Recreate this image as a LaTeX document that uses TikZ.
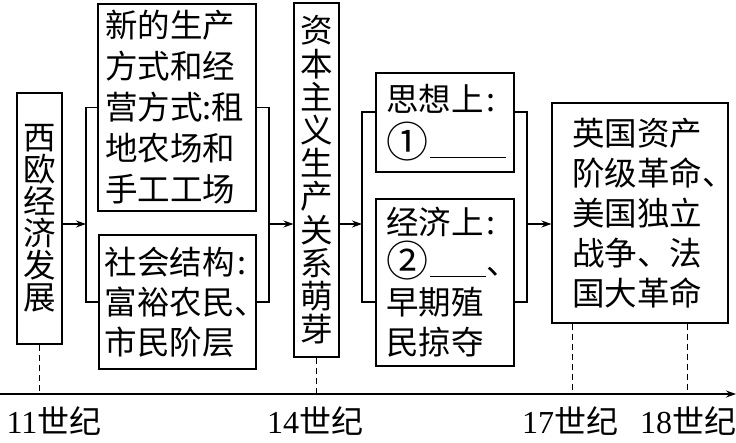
\documentclass[tikz,border=0pt]{standalone}
\usepackage{fontspec}
\setmainfont{Liberation Serif}
\newfontfamily\cjk{Noto Sans CJK SC}
\usetikzlibrary{arrows.meta}
\newcommand\dun{\makebox[6pt][l]{、}}
\newcommand\blank[1]{\kern2pt\rule[-2pt]{#1}{1.1pt}}
\newcommand\colo{\kern3pt:}
\newcommand\circnum[1]{{\fontsize{42}{40}\selectfont\raisebox{-1.5pt}{#1}}}
\begin{document}
\begin{tikzpicture}[x=1pt,y=-1pt,
  line width=1.1pt,
  box/.style={draw, inner sep=0pt, align=left},
  zh/.style={font={\cjk\fontsize{32.5}{#1}\selectfont\lineskiplimit=-20pt}},
  vbox/.style={draw, inner sep=0pt, align=center, text width=34pt},
  arr/.style={-{Stealth[length=10pt,width=7pt]}},
  tick/.style={line width=0.8pt, dash pattern=on 6pt off 4pt},
  lab/.style={font=\fontsize{32}{36}\selectfont, anchor=base, inner sep=0pt}
]
\useasboundingbox (0,0) rectangle (736,442);
\fill[white] (0,0) rectangle (736,442);
% boxes
\node[vbox, zh=32, minimum width=45pt, minimum height=251pt] (b1) at (39.5,218.5) {西\\欧\\经\\济\\发\\展};
\node[box, zh=41, text width=144pt, minimum width=158pt, minimum height=207pt] (b2) at (177,107.5) {新的生产\\方式和经\\营方式:租\\地农场和\\手工工场};
\node[box, zh=40, text width=146pt, minimum width=157pt, minimum height=134pt] (b3) at (177.5,302) {社会结构\colo\\富裕农民\dun\\市民阶层};
\node[vbox, zh=33.2, minimum width=45pt, minimum height=354pt] (b4) at (316.5,180) {资\\本\\主\\义\\生\\产\\关\\系\\萌\\芽};
\node[box, zh=45, text width=118pt, minimum width=138pt, minimum height=99pt] (b5) at (445,122.5) {思想上\colo\\\circnum{①}\blank{76pt}};
\node[box, zh=40, text width=118pt, minimum width=138pt, minimum height=167pt] (b6) at (445,282.5) {经济上\colo\\\circnum{②}\blank{56pt}\dun\\早期殖\\民掠夺};
\node[box, zh=40, text width=136pt, minimum width=176pt, minimum height=220pt] (b7) at (640,213) {英国资产\\阶级革命\dun\\美国独立\\战争、法\\国大革命};
% joints
\coordinate (j1) at (86,224);
\coordinate (j2) at (269,224);
\coordinate (j3) at (362,224);
\coordinate (j4) at (527,224);
\coordinate (t0) at (0,394);
\coordinate (t1) at (736,394);
% connectors
\draw[arr] (b1.east |- j1) -- (j1);
\draw (b2.west) -| (j1) |- (b3.west);
\draw (b2.east) -| (j2) |- (b3.east);
\draw[arr] (j2) -- (b4.west |- j2);
\draw[arr] (b4.east |- j3) -- (j3);
\draw ([yshift=10.5pt]b5.west) -| (j3) |- ([yshift=-19.5pt]b6.west);
\draw ([yshift=10.5pt]b5.east) -| (j4) |- ([yshift=-19.5pt]b6.east);
\draw[arr] (j4) -- (b7.west |- j4);
% timeline
\draw[arr] (t0) -- (t1);
\draw[tick] (b1.south) -- (b1.south |- t0);
\draw[tick] (b4.south) -- (b4.south |- t0);
\coordinate (d1) at ([xshift=21pt]b7.south west);
\coordinate (d2) at ([xshift=-41pt]b7.south east);
\draw[tick] (d1) -- (d1 |- t0);
\draw[tick] (d2) -- (d2 |- t0);
% labels
\node[lab] (l11) at (54,433) {11{\cjk 世纪}};
\node[lab] (l14) at (315,433) {14{\cjk 世纪}};
\node[lab] (l17) at (570,433) {17{\cjk 世纪}};
\node[lab] (l18) at (688,433) {18{\cjk 世纪}};
\end{tikzpicture}
\end{document}
